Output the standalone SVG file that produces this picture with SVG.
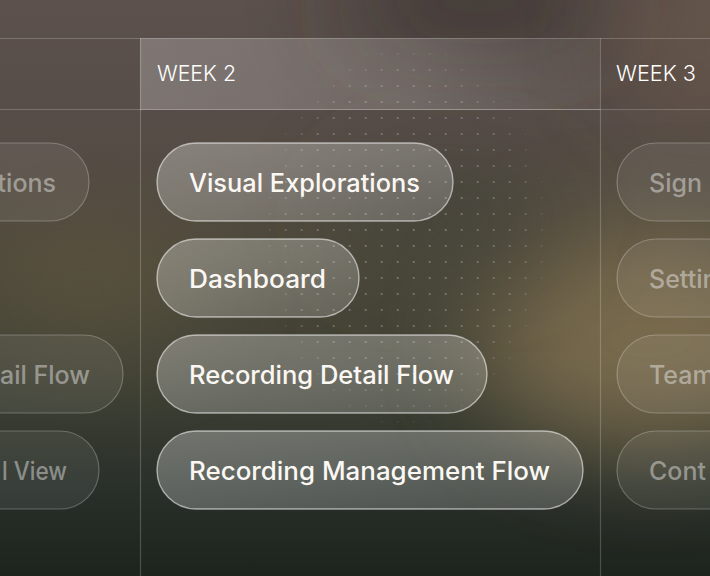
<svg xmlns="http://www.w3.org/2000/svg" width="710" height="576" viewBox="0 0 710 576">
<defs>
<linearGradient id="bg" x1="0" y1="0" x2="0" y2="1">
<stop offset="0" stop-color="#5c514d"/>
<stop offset="0.2" stop-color="#574d48"/>
<stop offset="0.45" stop-color="#4d493b"/>
<stop offset="0.68" stop-color="#3d3f33"/>
<stop offset="0.85" stop-color="#29302a"/>
<stop offset="1" stop-color="#1d231d"/>
</linearGradient>
<filter id="blur" x="-60%" y="-60%" width="220%" height="220%"><feGaussianBlur stdDeviation="50"/></filter>
<linearGradient id="hdr" x1="0" y1="0" x2="1" y2="0">
<stop offset="0" stop-color="#fff" stop-opacity="0.22"/>
<stop offset="0.6" stop-color="#fff" stop-opacity="0.17"/>
<stop offset="1" stop-color="#fff" stop-opacity="0.05"/>
</linearGradient>
<linearGradient id="pill" x1="0" y1="0" x2="1" y2="1">
<stop offset="0" stop-color="#fff" stop-opacity="0.30"/>
<stop offset="0.5" stop-color="#fff" stop-opacity="0.24"/>
<stop offset="1" stop-color="#fff" stop-opacity="0.17"/>
</linearGradient>
<pattern id="dots" x="5.7" y="-2" width="16" height="16" patternUnits="userSpaceOnUse">
<rect x="7" y="7" width="2" height="2" fill="#fff" fill-opacity="0.26"/>
</pattern>
<radialGradient id="dotfade" cx="405" cy="235" r="215" gradientUnits="userSpaceOnUse" gradientTransform="translate(405 235) scale(0.75 1) translate(-405 -235)">
<stop offset="0" stop-color="#fff" stop-opacity="1"/>
<stop offset="0.72" stop-color="#fff" stop-opacity="0.8"/>
<stop offset="0.92" stop-color="#fff" stop-opacity="0"/>
</radialGradient>
<mask id="dotmask"><rect width="710" height="576" fill="url(#dotfade)"/></mask>
<style>
.line{stroke:#fff;stroke-opacity:0.2;stroke-width:1.2;fill:none}
.main rect{fill:url(#pill);stroke:#fff;stroke-opacity:0.55;stroke-width:1.4}
.main text{font-family:Inter,"Noto Sans",sans-serif;font-size:25px;font-weight:500;fill:#fbf8f4}
.dim rect{fill:#fff;fill-opacity:0.07;stroke:#fff;stroke-opacity:0.25;stroke-width:1.2}
.dim text{font-family:Inter,"Noto Sans",sans-serif;font-size:25px;font-weight:500;fill:#fff;fill-opacity:0.42}
.hd{font-family:Inter,"Noto Sans",sans-serif;font-size:22px;font-weight:300;fill:#fff}
</style>
</defs>

<g id="background">
<rect width="710" height="576" fill="url(#bg)"/>
<ellipse cx="650" cy="340" rx="170" ry="110" fill="#8a7754" opacity="0.75" filter="url(#blur)"/>
<ellipse cx="90" cy="290" rx="120" ry="60" fill="#6a5e44" opacity="0.45" filter="url(#blur)"/>
<ellipse cx="480" cy="0" rx="140" ry="50" fill="#342e2b" opacity="0.8" filter="url(#blur)"/>
<ellipse cx="450" cy="220" rx="110" ry="60" fill="#3c4138" opacity="0.55" filter="url(#blur)"/>
<ellipse cx="700" cy="40" rx="80" ry="60" fill="#6e5a48" opacity="0.7" filter="url(#blur)"/>
</g>

<g id="header-week2">
<rect x="140" y="38" width="460" height="71" fill="url(#hdr)"/>
</g>

<g id="dot-grid">
<rect x="240" y="40" width="340" height="400" fill="url(#dots)" mask="url(#dotmask)"/>
</g>

<g id="grid">
<line class="line" x1="0" y1="38.5" x2="710" y2="38.5"/>
<line class="line" x1="0" y1="109.5" x2="710" y2="109.5"/>
<line x1="140" y1="109.5" x2="600" y2="109.5" stroke="#fff" stroke-opacity="0.25" stroke-width="1.2"/>
<line class="line" x1="140.5" y1="38" x2="140.5" y2="576"/>
<line class="line" x1="600.5" y1="38" x2="600.5" y2="576"/>
</g>

<g id="labels">
<text class="hd" x="157" y="81" textLength="79" lengthAdjust="spacingAndGlyphs">WEEK 2</text>
<text class="hd" x="616" y="81" textLength="80" lengthAdjust="spacingAndGlyphs">WEEK 3</text>
</g>

<g id="week1" class="dim">
<g id="w1-a"><rect x="-300" y="143" width="389" height="78" rx="39"/><text x="56" y="192" text-anchor="end">tions</text></g>
<g id="w1-b"><rect x="-300" y="335" width="423" height="78" rx="39"/><text x="90" y="384" text-anchor="end">ail Flow</text></g>
<g id="w1-c"><rect x="-300" y="431" width="399" height="78" rx="39"/><text x="67" y="480" text-anchor="end" textLength="65" lengthAdjust="spacingAndGlyphs">l View</text></g>
</g>

<g id="week2" class="main">
<g id="n-visual"><rect x="157" y="143" width="296" height="78" rx="39"/><text x="189" y="192" textLength="231" lengthAdjust="spacingAndGlyphs">Visual Explorations</text></g>
<g id="n-dashboard"><rect x="157" y="239" width="202" height="78" rx="39"/><text x="189" y="288" textLength="137" lengthAdjust="spacingAndGlyphs">Dashboard</text></g>
<g id="n-detail"><rect x="157" y="335" width="330" height="78" rx="39"/><text x="189" y="384" textLength="265" lengthAdjust="spacingAndGlyphs">Recording Detail Flow</text></g>
<g id="n-mgmt"><rect x="157" y="431" width="426" height="78" rx="39"/><text x="189" y="480" textLength="361" lengthAdjust="spacingAndGlyphs">Recording Management Flow</text></g>
</g>

<g id="week3" class="dim">
<g id="w3-a"><rect x="617" y="143" width="300" height="78" rx="39"/><text x="649" y="192">Sign U</text></g>
<g id="w3-b"><rect x="617" y="239" width="300" height="78" rx="39"/><text x="649" y="288">Settin</text></g>
<g id="w3-c"><rect x="617" y="335" width="300" height="78" rx="39"/><text x="649" y="384">Team</text></g>
<g id="w3-d"><rect x="617" y="431" width="300" height="78" rx="39"/><text x="649" y="480">Cont</text></g>
</g>
</svg>
